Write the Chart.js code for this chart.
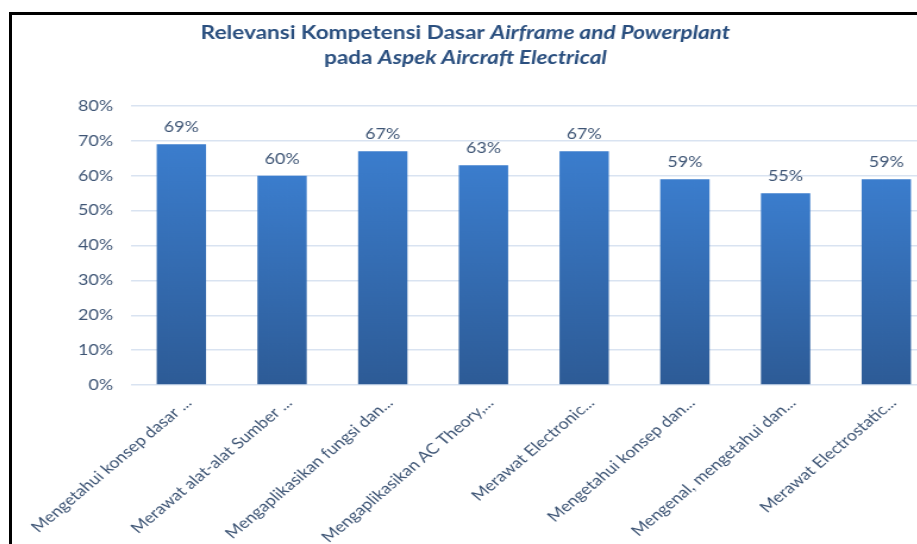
<!DOCTYPE html>
<html lang="id">
<head>
	<meta charset="UTF-8">
	<script src="https://cdn.jsdelivr.net/npm/chart.js"></script>
	<title>Relevansi Kompetensi Dasar</title>
	<style>
		html, body { margin: 0; padding: 0; background: #fff; overflow: hidden; width: 917px; height: 544px; }
		#bingkai {
			position: absolute; left: 9px; top: 12px;
			border-left: 3px solid #000; border-top: 3px solid #000;
			width: 940px; height: 560px; background: #fff; overflow: hidden;
		}
		/* grafik direntang melebar seperti gambar aslinya */
		#kotak {
			position: absolute; left: 0; top: 0;
			width: 790px; height: 560px;
			transform: scaleX(1.19); transform-origin: 0 0;
		}
	</style>
</head>
<body>
	<div id="bingkai"><div id="kotak"><canvas id="grafik"></canvas></div></div>
	<script>
		// Data
		const kategori = [
			'Mengetahui konsep dasar ...',
			'Merawat alat-alat Sumber ...',
			'Mengaplikasikan fungsi dan...',
			'Mengaplikasikan AC Theory,...',
			'Merawat Electronic...',
			'Mengetahui konsep dan...',
			'Mengenal, mengetahui dan...',
			'Merawat Electrostatic...'
		];
		const nilai = [69, 60, 67, 63, 67, 59, 55, 59];
		const skalaMaks = 80;
		const langkah = 10;

		// Judul dua baris: bagian tegak dan miring
		const judulBaris = [
			[['Relevansi Kompetensi Dasar ', false], ['Airframe and Powerplant', true]],
			[['pada ', false], ['Aspek Aircraft Electrical', true]]
		];

		const warnaTeks = '#3E5575';
		const huruf = 'Lato, "Open Sans", sans-serif';

		const judulPlugin = {
			id: 'judul',
			afterDraw(chart) {
				const c = chart.ctx;
				const tengah = 381;
				const baseline = [24, 48.5];
				c.save();
				c.fillStyle = '#2A4F7F';
				c.textBaseline = 'alphabetic';
				c.textAlign = 'left';
				judulBaris.forEach((baris, i) => {
					let total = 0;
					baris.forEach(([t, miring]) => {
						c.font = (miring ? 'italic ' : '') + 'bold 19px ' + huruf;
						total += c.measureText(t).width;
					});
					let x = tengah - total / 2;
					baris.forEach(([t, miring]) => {
						c.font = (miring ? 'italic ' : '') + 'bold 19px ' + huruf;
						c.fillText(t, x, baseline[i]);
						x += c.measureText(t).width;
					});
				});
				c.restore();
			}
		};

		// Label persentase di atas batang
		const labelPlugin = {
			id: 'labelNilai',
			afterDatasetsDraw(chart) {
				const c = chart.ctx;
				const meta = chart.getDatasetMeta(0);
				c.save();
				c.font = '15px ' + huruf;
				c.fillStyle = warnaTeks;
				c.textAlign = 'center';
				c.textBaseline = 'middle';
				meta.data.forEach((bar, i) => {
					c.fillText(nilai[i] + '%', bar.x, bar.y - 17);
				});
				c.restore();
			}
		};

		const ctx = document.getElementById('grafik').getContext('2d');
		new Chart(ctx, {
			type: 'bar',
			data: {
				labels: kategori,
				datasets: [{
					data: nilai,
					backgroundColor(context) {
						const chart = context.chart;
						const area = chart.chartArea;
						if (!area || context.raw === undefined) return '#3470B8';
						const yAtas = chart.scales.y.getPixelForValue(context.raw);
						const g = chart.ctx.createLinearGradient(0, yAtas, 0, area.bottom);
						g.addColorStop(0, '#3B7DCD');
						g.addColorStop(1, '#2D5B96');
						return g;
					},
					borderWidth: 0,
					categoryPercentage: 1,
					barPercentage: 0.49
				}]
			},
			options: {
				responsive: true,
				maintainAspectRatio: false,
				animation: false,
				layout: { padding: { top: 91, right: 13, left: 0, bottom: 0 } },
				plugins: {
					legend: { display: false },
					tooltip: { enabled: false }
				},
				scales: {
					x: {
						grid: { display: false },
						border: { display: false },
						ticks: {
							color: warnaTeks,
							font: { family: huruf, size: 15 },
							minRotation: 45,
							maxRotation: 45,
							autoSkip: false,
							padding: 1,
							labelOffset: 6
						},
						afterFit(scale) { scale.height = 190; }
					},
					y: {
						min: 0,
						max: skalaMaks,
						grid: { color: '#D9E3F1', lineWidth: 1.5, drawTicks: false },
						border: { display: false },
						ticks: {
							stepSize: langkah,
							color: warnaTeks,
							font: { family: huruf, size: 15 },
							padding: 15,
							callback: v => v + '%'
						},
						afterFit(scale) { scale.width = 100; }
					}
				}
			},
			plugins: [judulPlugin, labelPlugin]
		});
	</script>
</body>
</html>
